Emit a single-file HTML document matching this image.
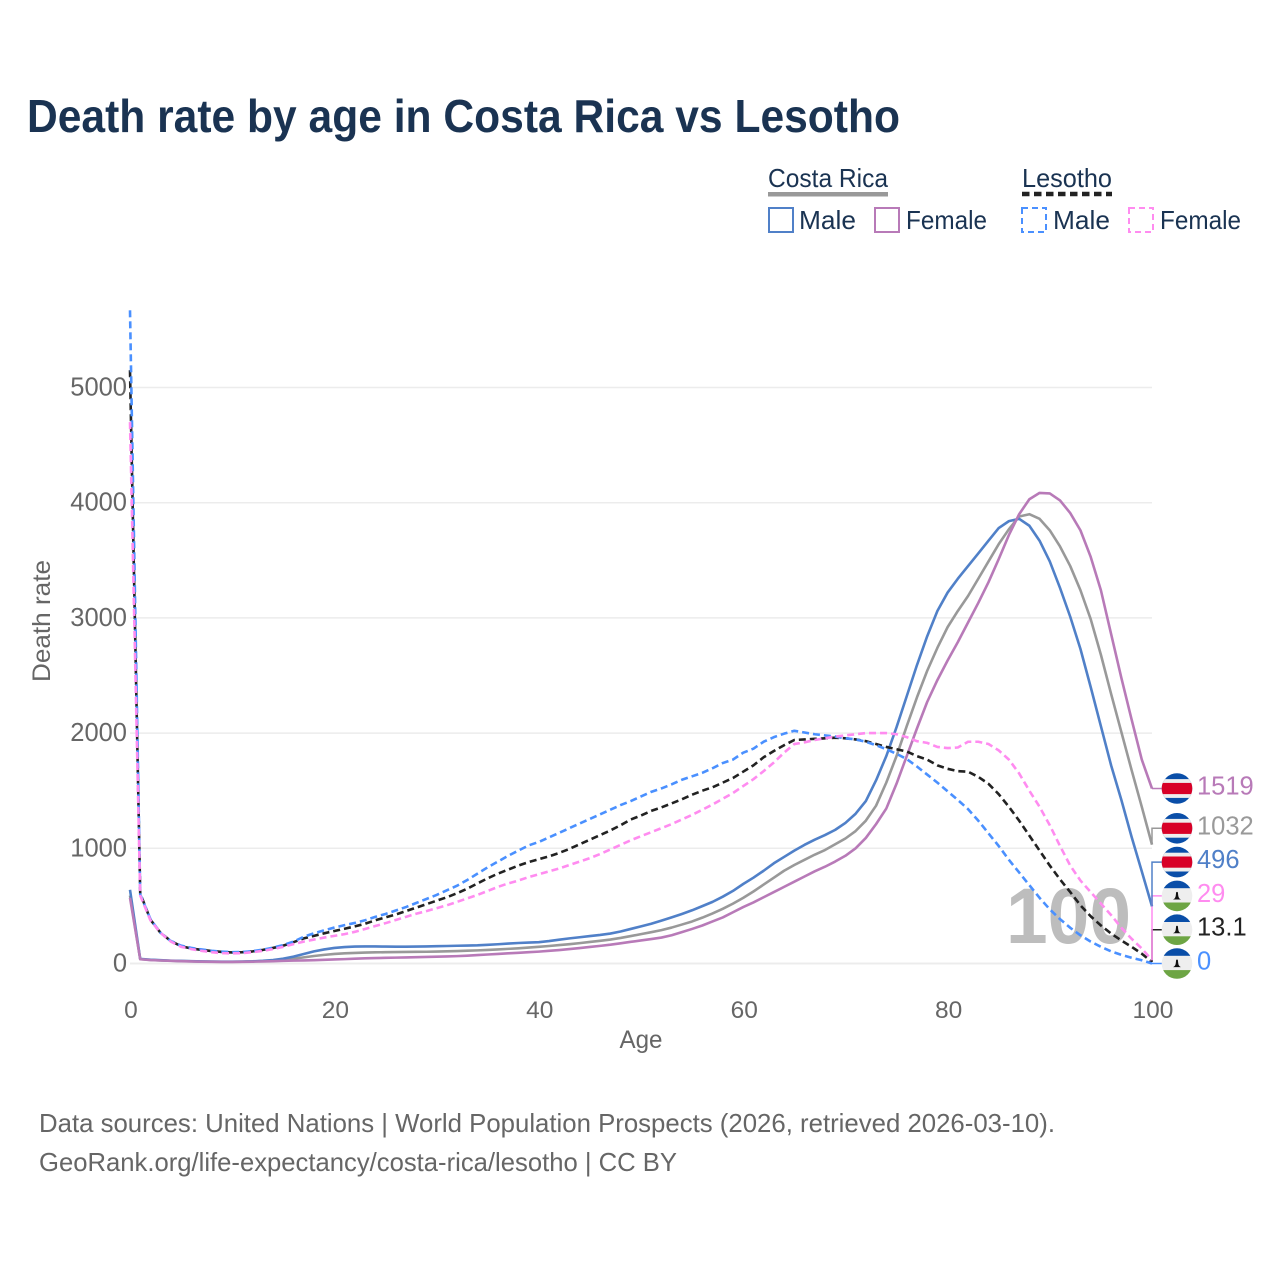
<!DOCTYPE html>
<html lang="en">
<head>
<meta charset="utf-8">
<title>Death rate by age in Costa Rica vs Lesotho</title>
<style>
html,body{margin:0;padding:0;background:#fff;width:1280px;height:1280px;overflow:hidden}
svg{display:block}
text{font-family:"Liberation Sans",sans-serif}
</style>
</head>
<body>
<svg id="chart" xmlns="http://www.w3.org/2000/svg" width="1280" height="1280" viewBox="0 0 1280 1280">
  <defs>
    <clipPath id="flag-clip"><circle cx="0" cy="0" r="15.3"></circle></clipPath>
  </defs>
  <rect x="0" y="0" width="1280" height="1280" fill="#fff"></rect>
  <text x="27" y="132" font-size="46" font-weight="700" fill="#1a3352" textLength="873" lengthAdjust="spacingAndGlyphs">Death rate by age in Costa Rica vs Lesotho</text>

  <g font-size="26" fill="#1a3352">
    <text x="768" y="187" textLength="120" lengthAdjust="spacingAndGlyphs">Costa Rica</text>
    <rect x="768" y="192" width="120" height="4.5" fill="#999"></rect>
    <text x="1022" y="187" textLength="90" lengthAdjust="spacingAndGlyphs">Lesotho</text>
    <line x1="1022" x2="1112" y1="194" y2="194" stroke="#222" stroke-width="4.5" stroke-dasharray="7.5 4.5"></line>

    <rect x="769" y="208" width="24" height="24" fill="none" stroke="#5080c8" stroke-width="2"></rect>
    <text x="799" y="229" textLength="57" lengthAdjust="spacingAndGlyphs">Male</text>
    <rect x="875" y="208" width="24" height="24" fill="none" stroke="#b87ab8" stroke-width="2"></rect>
    <text x="906" y="229" textLength="81" lengthAdjust="spacingAndGlyphs">Female</text>
    <rect x="1022" y="208" width="24" height="24" fill="none" stroke="#4a90ff" stroke-width="2" stroke-dasharray="6 4"></rect>
    <text x="1053" y="229" textLength="57" lengthAdjust="spacingAndGlyphs">Male</text>
    <rect x="1129" y="208" width="24" height="24" fill="none" stroke="#ff8cf0" stroke-width="2" stroke-dasharray="6 4"></rect>
    <text x="1160" y="229" textLength="81" lengthAdjust="spacingAndGlyphs">Female</text>
  </g>

  <g id="grid"></g>
  <g id="xticks" font-size="24.5" fill="#666" text-anchor="middle"></g>
  <g id="yticks" font-size="25.5" fill="#666" text-anchor="end"></g>
  <text x="641" y="1048" font-size="25" fill="#666" text-anchor="middle" textLength="43" lengthAdjust="spacingAndGlyphs">Age</text>
  <text transform="translate(50,621) rotate(-90)" font-size="25" fill="#666" text-anchor="middle" textLength="122" lengthAdjust="spacingAndGlyphs">Death rate</text>

  <text id="watermark" x="1006" y="943" font-size="79" font-weight="700" fill="#bdbdbd" textLength="125" lengthAdjust="spacingAndGlyphs">100</text>
  <g id="series"></g>
  <g id="ends"></g>

  <g font-size="26" fill="#666">
    <text x="39" y="1132" textLength="1016" lengthAdjust="spacingAndGlyphs">Data sources: United Nations | World Population Prospects (2026, retrieved 2026-03-10).</text>
    <text x="39" y="1171" textLength="638" lengthAdjust="spacingAndGlyphs">GeoRank.org/life-expectancy/costa-rica/lesotho | CC BY</text>
  </g>
</svg>

<script>
const xTickLabels = [0, 20, 40, 60, 80, 100];
const yTickLabels = [0, 1000, 2000, 3000, 4000, 5000];

const costaRicaTotal = [590,38,31,27,24,21,19,17,16,15,15,16,18,21,26,33,42,53,65,75,83,88,92,95,97,98,99,100,101,102,104,106,108,111,114,118,122,127,132,138,145,152,160,168,177,187,197,208,222,238,255,272,290,312,338,365,398,435,475,520,570,625,685,745,805,855,900,945,985,1035,1085,1150,1240,1370,1570,1800,2060,2310,2540,2740,2920,3060,3190,3340,3490,3640,3770,3880,3900,3860,3760,3620,3450,3240,2990,2680,2340,2010,1680,1360,1032];
const costaRicaMale = [640,40,33,29,25,22,20,18,17,16,16,17,19,23,30,42,60,82,105,122,135,143,147,148,148,147,146,146,147,148,150,152,154,156,158,162,167,173,178,182,185,195,207,218,228,238,248,260,278,300,322,345,372,400,430,462,498,535,580,630,690,745,805,870,925,980,1030,1075,1115,1160,1220,1300,1410,1590,1800,2050,2320,2590,2840,3060,3220,3340,3450,3560,3670,3780,3840,3860,3800,3670,3490,3260,3010,2730,2400,2060,1720,1420,1100,800,496];
const costaRicaFemale = [570,37,30,26,23,20,18,16,15,14,14,15,16,18,20,23,25,27,29,32,35,38,42,45,47,49,51,53,55,57,59,61,64,68,73,78,83,88,93,98,103,110,117,125,134,144,153,163,175,188,200,212,225,245,272,300,330,365,400,445,490,530,575,620,665,710,755,800,840,885,935,1000,1090,1210,1345,1560,1800,2040,2270,2460,2630,2790,2960,3130,3310,3510,3720,3900,4030,4085,4080,4020,3910,3760,3530,3240,2860,2480,2120,1770,1519];
const lesothoTotal = [5150,610,380,265,195,150,130,118,108,100,96,98,105,118,135,155,185,218,240,262,282,302,322,345,375,400,425,455,485,515,545,575,610,650,695,740,780,815,850,880,905,930,960,995,1035,1075,1115,1155,1200,1250,1285,1325,1355,1390,1425,1465,1500,1530,1570,1610,1665,1720,1790,1845,1895,1940,1945,1950,1955,1960,1955,1945,1930,1905,1880,1860,1840,1800,1770,1720,1690,1670,1665,1620,1560,1470,1360,1240,1110,980,850,730,620,505,410,330,260,200,145,85,13.1];
const lesothoMale = [5670,600,385,265,195,155,135,122,110,103,98,100,107,120,138,160,190,232,262,288,312,333,352,375,405,430,460,490,525,560,595,635,675,725,780,835,885,935,980,1025,1055,1095,1135,1175,1215,1255,1295,1335,1375,1410,1450,1490,1520,1555,1595,1625,1655,1695,1740,1770,1830,1865,1925,1965,1995,2020,2005,1990,1980,1970,1955,1945,1925,1895,1860,1820,1775,1710,1640,1570,1495,1420,1340,1240,1130,1020,900,790,680,570,470,385,310,245,190,145,105,75,50,28,0];
const lesothoFemale = [4700,590,375,265,190,145,125,110,98,90,88,90,98,110,125,145,168,190,208,225,240,255,275,300,325,350,378,405,432,455,480,505,535,565,595,630,665,695,720,750,775,800,825,855,885,915,950,990,1030,1070,1105,1140,1175,1210,1250,1290,1335,1380,1430,1480,1540,1600,1670,1745,1830,1905,1920,1940,1955,1970,1980,1990,2000,2000,2000,1990,1965,1930,1915,1880,1870,1875,1925,1925,1905,1850,1770,1650,1500,1360,1200,1020,850,720,620,520,420,310,215,130,29];

const svgNS = 'http://www.w3.org/2000/svg';
const xScale = function (age) { return 130 + age * 10.22; };
const yScale = function (rate) { return 963.5 - rate * 0.1152; };

const grid = document.getElementById('grid');
const xticks = document.getElementById('xticks');
const yticks = document.getElementById('yticks');
const seriesLayer = document.getElementById('series');
const ends = document.getElementById('ends');

yTickLabels.forEach(function (v) {
  const line = document.createElementNS(svgNS, 'line');
  
  
  line.setAttribute('x1', xScale(0));
  line.setAttribute('x2', xScale(100));
  line.setAttribute('y1', yScale(v));
  line.setAttribute('y2', yScale(v));
  line.setAttribute('stroke', '#ececec');
  line.setAttribute('stroke-width', v === 0 ? 2 : 1.5);
  grid.appendChild(line);

  const t = document.createElementNS(svgNS, 'text');
  
  
  t.setAttribute('x', 127);
  t.setAttribute('y', yScale(v) + 8);
  t.textContent = v;
  yticks.appendChild(t);
});

xTickLabels.forEach(function (v) {
  const t = document.createElementNS(svgNS, 'text');
  
  
  t.setAttribute('x', xScale(v) + 1);
  t.setAttribute('y', 1018);
  t.textContent = v;
  xticks.appendChild(t);
});

const seriesList = [
  { name: 'costa-rica-total', values: costaRicaTotal, color: '#999999', dash: '', flag: 'cr', text: '#999999' },
  { name: 'costa-rica-male', values: costaRicaMale, color: '#5080c8', dash: '', flag: 'cr', text: '#5080c8' },
  { name: 'costa-rica-female', values: costaRicaFemale, color: '#b87ab8', dash: '', flag: 'cr', text: '#b87ab8' },
  { name: 'lesotho-total', values: lesothoTotal, color: '#222222', dash: '7 4', flag: 'ls', text: '#222222' },
  { name: 'lesotho-male', values: lesothoMale, color: '#4a90ff', dash: '7 4', flag: 'ls', text: '#4a90ff' },
  { name: 'lesotho-female', values: lesothoFemale, color: '#ff8cf0', dash: '7 4', flag: 'ls', text: '#ff8cf0' }
];

seriesList.forEach(function (s) {
  const d = s.values.map(function (v, age) {
    return (age === 0 ? 'M' : 'L') + xScale(age).toFixed(2) + ' ' + yScale(v).toFixed(2);
  }).join(' ');
  const path = document.createElementNS(svgNS, 'path');
  
  
  path.setAttribute('d', d);
  path.setAttribute('fill', 'none');
  path.setAttribute('stroke', s.color);
  path.setAttribute('stroke-width', 2.6);
  path.setAttribute('stroke-linejoin', 'round');
  if (s.dash) path.setAttribute('stroke-dasharray', s.dash);
  seriesLayer.appendChild(path);
});

function addRect(parent, y, h, fill) {
  const r = document.createElementNS(svgNS, 'rect');
  
  
  r.setAttribute('x', -16);
  r.setAttribute('y', y);
  r.setAttribute('width', 32);
  r.setAttribute('height', h);
  r.setAttribute('fill', fill);
  parent.appendChild(r);
}

function drawFlag(kind, y) {
  const g = document.createElementNS(svgNS, 'g');
  
  
  g.setAttribute('transform', 'translate(1177,' + y + ')');
  g.setAttribute('clip-path', 'url(#flag-clip)');
  if (kind === 'cr') {
    addRect(g, -16, 32, '#0a4ea8');
    addRect(g, -9.4, 18.8, '#eeeeee');
    addRect(g, -5.6, 11.2, '#d80027');
  } else {
    addRect(g, -16, 32, '#eeeeee');
    addRect(g, -16, 8.3, '#0a4ea8');
    addRect(g, 6.6, 10, '#6da544');
    const hat = document.createElementNS(svgNS, 'path');
    
    
    hat.setAttribute('d', 'M-4 3.6 Q-1.4 2.6 -1.2 -0.6 L-0.9 -3.4 A1 1 0 0 1 0.9 -3.4 L1.2 -0.6 Q1.4 2.6 4 3.6 Z');
    hat.setAttribute('fill', '#111');
    g.appendChild(hat);
  }
  ends.appendChild(g);
}

const ordered = seriesList.slice().sort(function (a, b) {
  return a.values[100] - b.values[100];
});
let previousY = null;
const endEntries = ordered.map(function (s) {
  const lineY = yScale(s.values[100]);
  let labelY = lineY;
  if (previousY !== null && previousY - labelY < 33.8) labelY = previousY - 33.8;
  previousY = labelY;
  return { s: s, lineY: lineY, labelY: labelY };
});

endEntries.forEach(function (e) {
  const conn = document.createElementNS(svgNS, 'path');
  
  
  conn.setAttribute('d', 'M' + xScale(100) + ' ' + e.lineY + ' V' + e.labelY + ' H1163');
  conn.setAttribute('fill', 'none');
  conn.setAttribute('stroke', e.s.color);
  conn.setAttribute('stroke-width', 1.5);
  ends.appendChild(conn);
});

endEntries.slice().reverse().forEach(function (e) {
  drawFlag(e.s.flag, e.labelY);
  const t = document.createElementNS(svgNS, 'text');
  
  
  t.setAttribute('x', 1197);
  t.setAttribute('y', e.labelY + 6);
  t.setAttribute('font-size', 25.5);
  t.setAttribute('fill', e.s.text);
  t.textContent = e.s.values[100];
  ends.appendChild(t);
});
</script>
</body>
</html>
